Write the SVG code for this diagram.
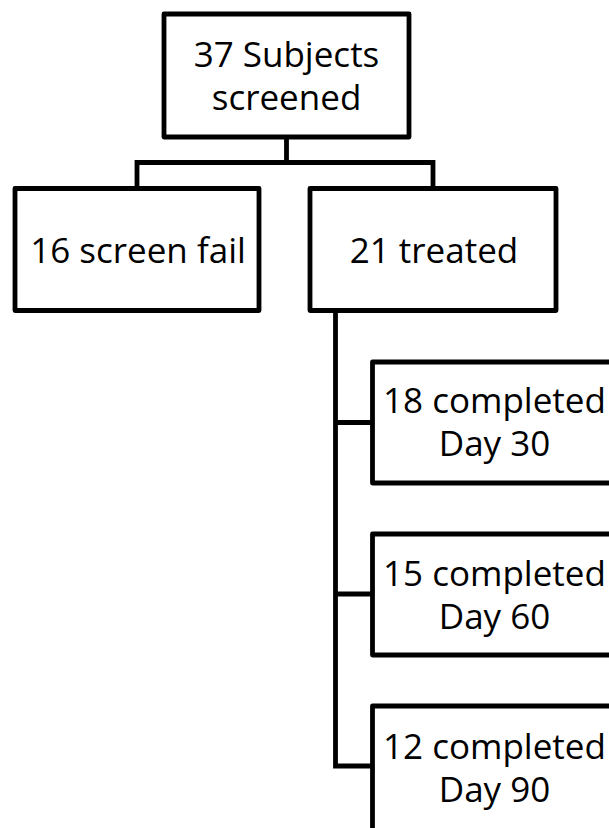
<svg xmlns="http://www.w3.org/2000/svg" width="609" height="828" viewBox="0 0 609 828">
  <style>
    .box { fill: #ffffff; stroke: #000000; stroke-width: 4.8; stroke-linejoin: round; }
    .conn { fill: none; stroke: #000000; stroke-width: 4.8; stroke-linejoin: miter; stroke-linecap: square; }
    .lbl { font-family: "Open Sans", "Noto Sans", sans-serif; font-size: 35px; fill: #000000; text-anchor: middle; }
  </style>
  <rect width="609" height="828" fill="#ffffff"/>
  <g id="connectors">
    <path class="conn" d="M286.5,137 V162.5 M137,188.5 V162.5 H433 V188.5"/>
    <path class="conn" d="M335.5,310 V766 M335.5,422.5 H372 M335.5,594 H372 M335.5,766 H372"/>
  </g>
  <g id="node-screened">
    <rect class="box" x="164" y="14" width="245" height="123"/>
    <text class="lbl" x="286.5" y="67">37 Subjects</text>
    <text class="lbl" x="286.5" y="110">screened</text>
  </g>
  <g id="node-fail">
    <rect class="box" x="15" y="188.5" width="244" height="122"/>
    <text class="lbl" x="138" y="263">16 screen fail</text>
  </g>
  <g id="node-treated">
    <rect class="box" x="310" y="188.5" width="246" height="122"/>
    <text class="lbl" x="434" y="263">21 treated</text>
  </g>
  <g id="node-day30">
    <rect class="box" x="372.5" y="362" width="250" height="121"/>
    <text class="lbl" x="494.5" y="413">18 completed</text>
    <text class="lbl" x="494.5" y="456">Day 30</text>
  </g>
  <g id="node-day60">
    <rect class="box" x="372.5" y="534" width="250" height="121"/>
    <text class="lbl" x="494.5" y="586">15 completed</text>
    <text class="lbl" x="494.5" y="629">Day 60</text>
  </g>
  <g id="node-day90">
    <rect class="box" x="372.5" y="706" width="250" height="140"/>
    <text class="lbl" x="494.5" y="759">12 completed</text>
    <text class="lbl" x="494.5" y="802">Day 90</text>
  </g>
</svg>
